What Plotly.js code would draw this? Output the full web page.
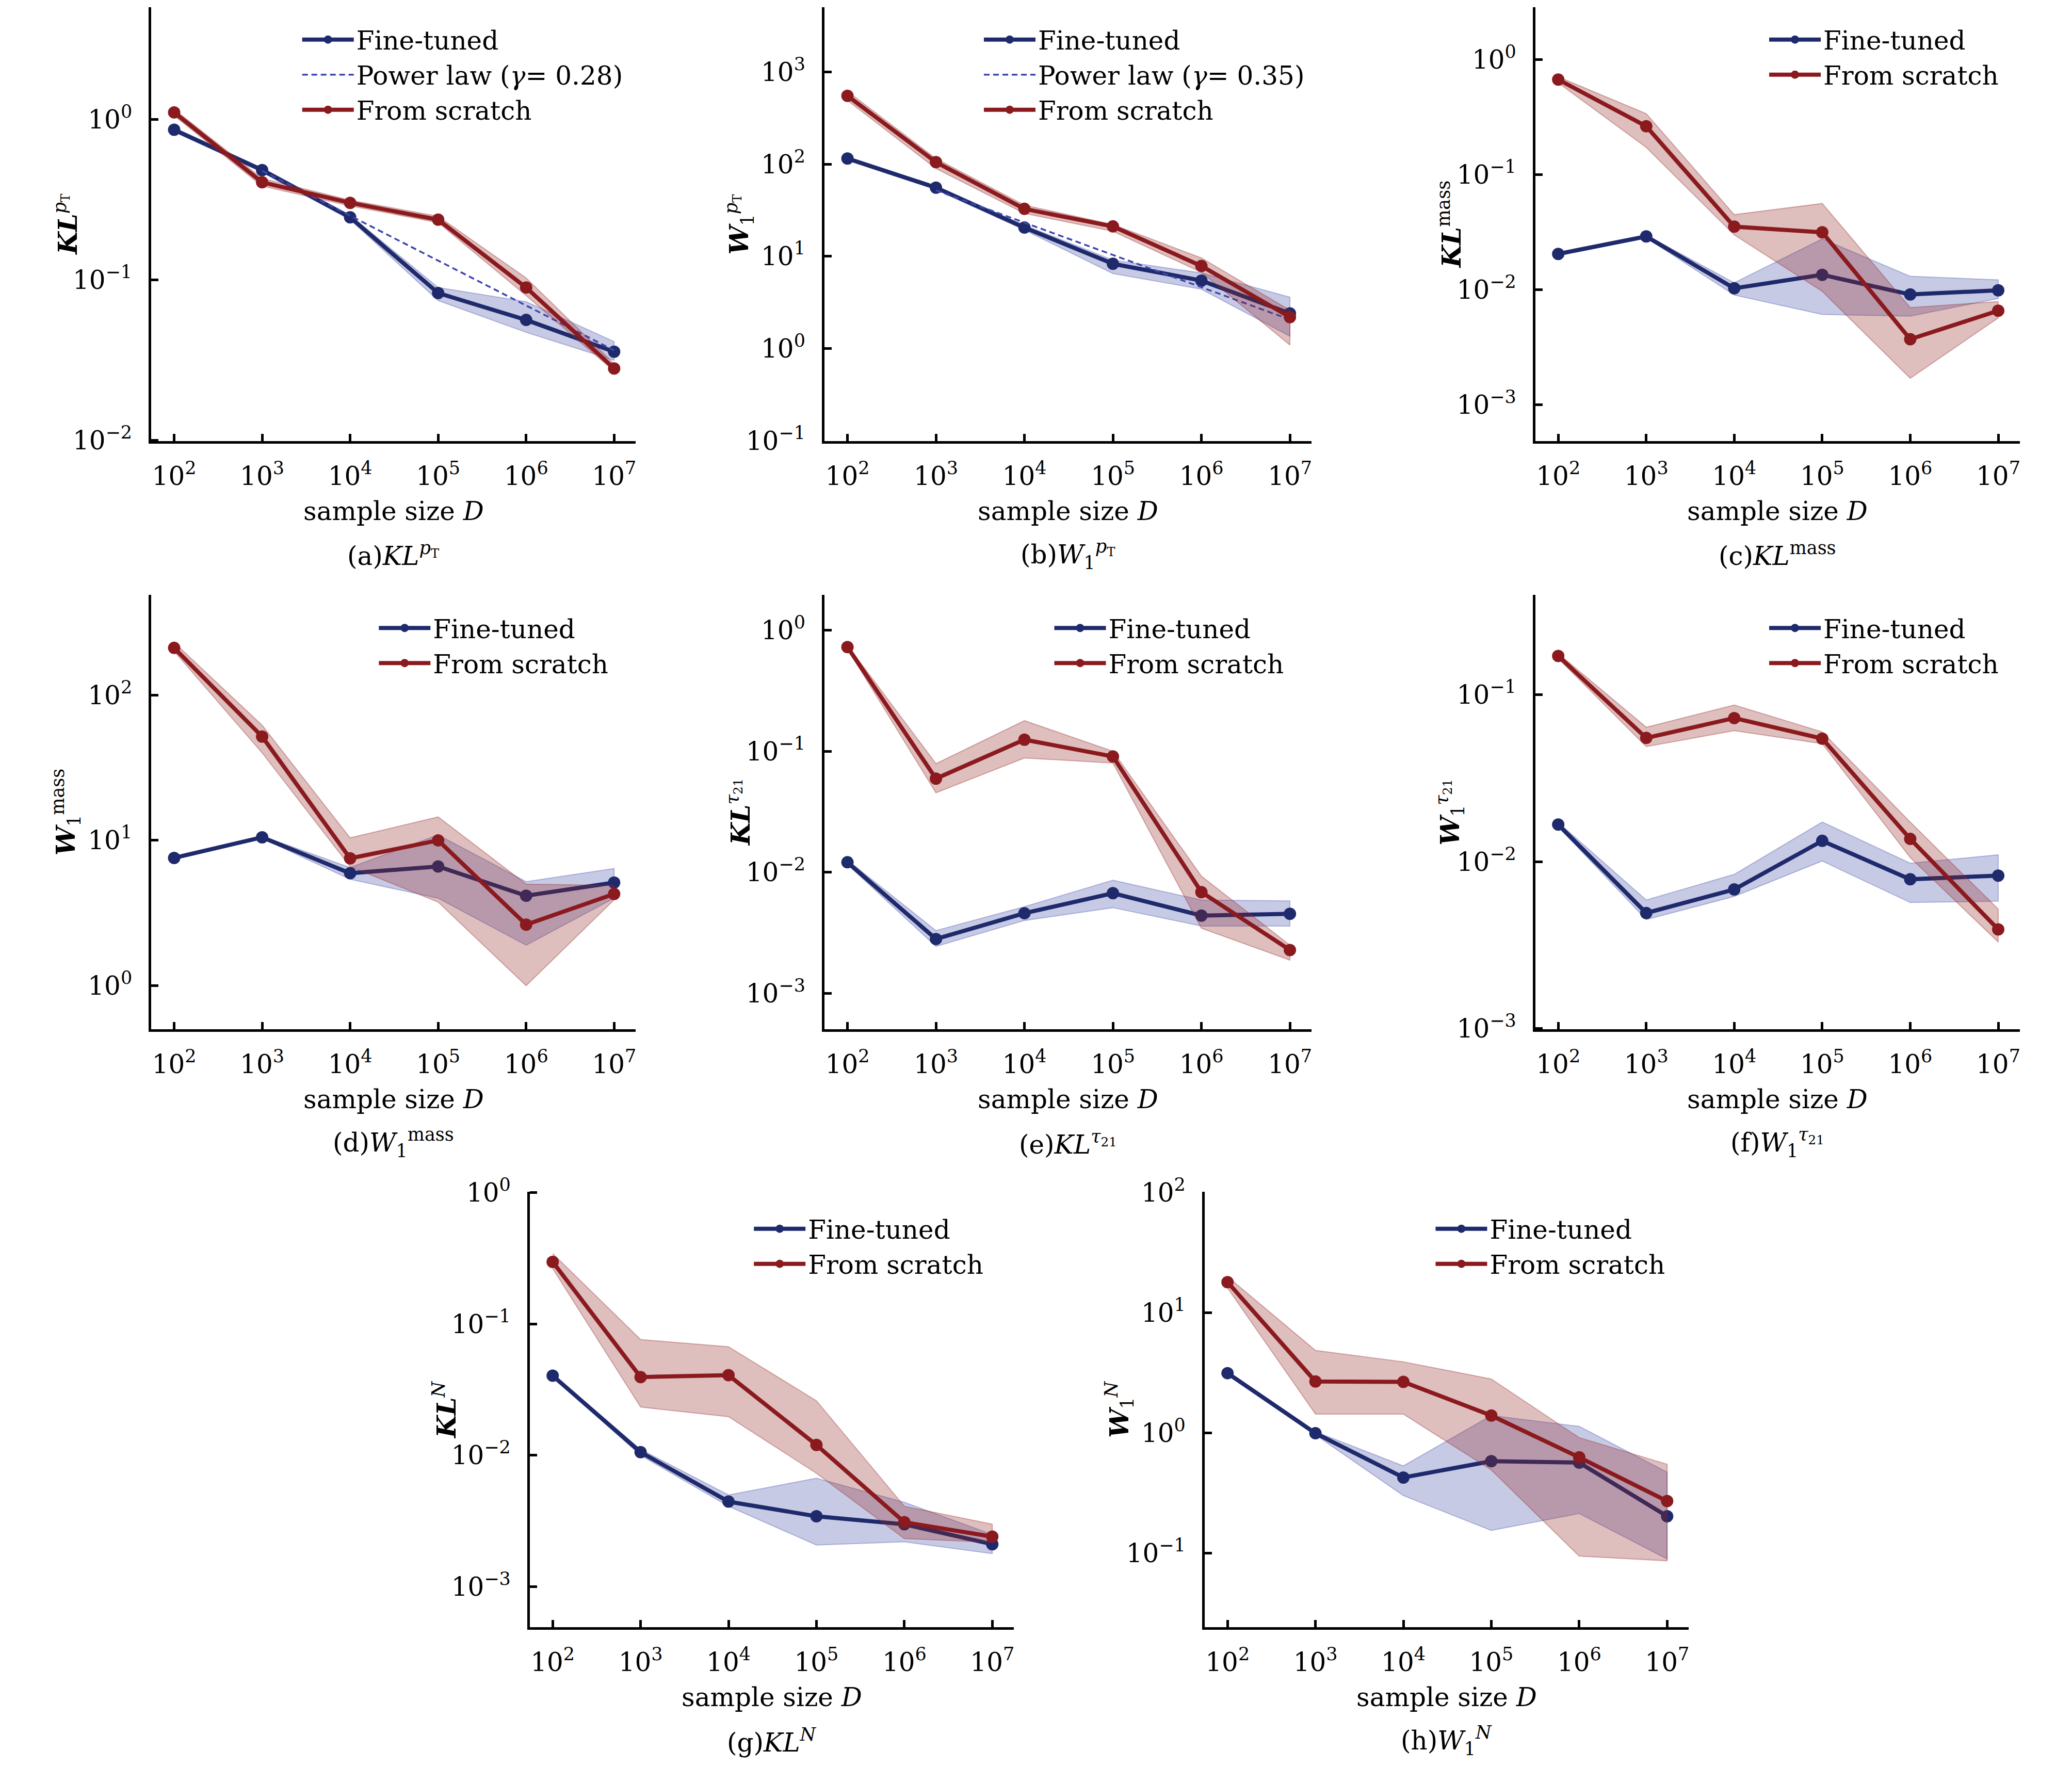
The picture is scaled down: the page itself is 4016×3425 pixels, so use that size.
<!DOCTYPE html>
<html>
<head>
<meta charset="utf-8">
<script src="https://cdn.plot.ly/plotly-3.0.1.min.js"></script>
<style>body{margin:0;background:#fff}</style>
</head>
<body>
<div id="chart" style="width:4016px;height:3425px"></div>
<script>
// sample sizes shared by all panels
var D = [1e2, 1e3, 1e4, 1e5, 1e6, 1e7];
var xTickExp = [2, 3, 4, 5, 6, 7];

// (a) KL pT
var ftA = [0.865, 0.485, 0.246, 0.083, 0.0564, 0.0357];
var ftA_lo = [0.84, 0.47, 0.238, 0.0745, 0.0472, 0.0316];
var ftA_hi = [0.89, 0.50, 0.254, 0.0898, 0.0733, 0.0413];
var scA = [1.11, 0.407, 0.303, 0.238, 0.0898, 0.0281];
var scA_lo = [1.06, 0.385, 0.29, 0.228, 0.080, 0.027];
var scA_hi = [1.16, 0.43, 0.315, 0.25, 0.103, 0.030];
var powA_x = [1e3, 1e4, 1e5, 1e6, 1e7];
var powA = [0.48, 0.252, 0.132, 0.069, 0.0364];

// (b) W1 pT
var ftB = [115, 55.6, 20.5, 8.3, 5.45, 2.4];
var ftB_lo = [110, 53, 19.3, 6.5, 4.4, 1.36];
var ftB_hi = [120, 58, 21.8, 9.1, 6.6, 3.6];
var scB = [551, 105, 32.7, 21.1, 7.85, 2.19];
var scB_lo = [490, 89.6, 29.2, 18.7, 6.7, 1.09];
var scB_hi = [616, 115, 35.9, 22.1, 9.6, 2.6];
var powB_x = [1e3, 1e4, 1e5, 1e6, 1e7];
var powB = [52, 23.2, 10.3, 4.6, 2.06];

// (c) KL mass
var ftC = [0.0205, 0.0291, 0.0103, 0.0135, 0.0091, 0.0099];
var ftC_lo = [0.0198, 0.0283, 0.0090, 0.0061, 0.0059, 0.0084];
var ftC_hi = [0.0212, 0.0299, 0.0115, 0.0277, 0.0131, 0.0122];
var scC = [0.673, 0.264, 0.0354, 0.0316, 0.00372, 0.00658];
var scC_lo = [0.63, 0.173, 0.030, 0.0097, 0.0017, 0.0057];
var scC_hi = [0.71, 0.34, 0.045, 0.0563, 0.0070, 0.0079];

// (d) W1 mass
var ftD = [7.57, 10.5, 5.94, 6.61, 4.16, 5.12];
var ftD_lo = [7.4, 10.3, 5.4, 4.0, 1.9, 4.0];
var ftD_hi = [7.75, 10.7, 6.5, 10.9, 5.2, 6.4];
var scD = [211, 51.8, 7.52, 10.0, 2.63, 4.28];
var scD_lo = [200, 40, 6.6, 3.76, 1.0, 3.9];
var scD_hi = [230, 62, 10.4, 14.5, 5.0, 4.9];

// (e) KL tau21
var ftE = [0.0121, 0.00281, 0.00459, 0.00672, 0.00439, 0.00454];
var ftE_lo = [0.0116, 0.00244, 0.0040, 0.0051, 0.0036, 0.0036];
var ftE_hi = [0.0126, 0.0033, 0.0052, 0.0086, 0.0059, 0.0058];
var scE = [0.726, 0.0594, 0.1247, 0.0905, 0.00686, 0.00228];
var scE_lo = [0.70, 0.0454, 0.088, 0.080, 0.00345, 0.00188];
var scE_hi = [0.75, 0.079, 0.179, 0.100, 0.0093, 0.0025];

// (f) W1 tau21
var ftF = [0.0167, 0.00493, 0.00682, 0.01334, 0.00785, 0.00826];
var ftF_lo = [0.0162, 0.0045, 0.0062, 0.0101, 0.0057, 0.0058];
var ftF_hi = [0.0172, 0.0059, 0.0084, 0.0173, 0.0098, 0.0110];
var scF = [0.171, 0.0552, 0.0726, 0.0547, 0.0137, 0.00393];
var scF_lo = [0.165, 0.049, 0.061, 0.051, 0.0106, 0.0033];
var scF_hi = [0.177, 0.064, 0.087, 0.060, 0.0173, 0.0052];

// (g) KL N
var ftG = [0.0404, 0.01057, 0.00445, 0.00344, 0.00299, 0.00211];
var ftG_lo = [0.0395, 0.0100, 0.0041, 0.00208, 0.0022, 0.00179];
var ftG_hi = [0.0413, 0.0111, 0.0050, 0.0067, 0.0044, 0.0025];
var scG = [0.296, 0.0394, 0.0407, 0.0120, 0.0031, 0.00241];
var scG_lo = [0.263, 0.0233, 0.0197, 0.0073, 0.00233, 0.00218];
var scG_hi = [0.343, 0.076, 0.067, 0.026, 0.0041, 0.0030];

// (h) W1 N
var ftH = [3.13, 0.99, 0.424, 0.58, 0.564, 0.202];
var ftH_lo = [3.05, 0.96, 0.30, 0.154, 0.213, 0.089];
var ftH_hi = [3.2, 1.02, 0.53, 1.39, 1.13, 0.47];
var scH = [17.9, 2.67, 2.65, 1.39, 0.624, 0.270];
var scH_lo = [16.0, 1.43, 1.43, 0.49, 0.094, 0.086];
var scH_hi = [19.9, 4.84, 3.89, 2.80, 0.91, 0.547];

// y tick exponents per panel
var yExpA = [-2, -1, 0], yExpB = [-1, 0, 1, 2, 3], yExpC = [-3, -2, -1, 0], yExpD = [0, 1, 2];
var yExpE = [-3, -2, -1, 0], yExpF = [-3, -2, -1], yExpG = [-3, -2, -1, 0], yExpH = [-1, 0, 1, 2];

var NAVY = '#1e2a6b', RED = '#8a1a1e';
var FONT = 'DejaVu Serif';
var LEG_SHIFT = 0.0174; // legend symbol sits left of the text

function pow10(e) {
    return '10<sup>' + (e < 0 ? '\u2212' + (-e) : e) + '</sup>';
}

var panels = [
    {id: '',  ft: [ftA, ftA_lo, ftA_hi], sc: [scA, scA_lo, scA_hi], pow: [powA_x, powA, '0.28'], yexp: yExpA,
     xd: [0.0730, 0.3068], yd: [0.7504, 0.9958], yr: [-2.004, 0.70], lg: [0.162, 0.989],
     ytitle: '<b><i>KL</i></b><sup><i>p</i><sub>T</sub></sup>', cap: '(a)<i>KL</i><sup><i>p</i><sub>T</sub></sup>'},
    {id: '2', ft: [ftB, ftB_lo, ftB_hi], sc: [scB, scB_lo, scB_hi], pow: [powB_x, powB, '0.35'], yexp: yExpB,
     xd: [0.3979, 0.6330], yd: [0.7504, 0.9958], yr: [-1.004, 3.70], lg: [0.491, 0.989],
     ytitle: '<b><i>W</i></b><sub>1</sub><sup><i>p</i><sub>T</sub></sup>', cap: '(b)<i>W</i><sub>1</sub><sup><i>p</i><sub>T</sub></sup>'},
    {id: '3', ft: [ftC, ftC_lo, ftC_hi], sc: [scC, scC_lo, scC_hi], yexp: yExpC,
     xd: [0.7410, 0.9748], yd: [0.7504, 0.9958], yr: [-3.315, 0.455], lg: [0.870, 0.989],
     ytitle: '<b><i>KL</i></b><sup>mass</sup>', cap: '(c)<i>KL</i><sup>mass</sup>'},
    {id: '4', ft: [ftD, ftD_lo, ftD_hi], sc: [scD, scD_lo, scD_hi], yexp: yExpD,
     xd: [0.0730, 0.3068], yd: [0.4175, 0.6634], yr: [-0.30, 2.69], lg: [0.199, 0.656],
     ytitle: '<b><i>W</i></b><sub>1</sub><sup>mass</sup>', cap: '(d)<i>W</i><sub>1</sub><sup>mass</sup>'},
    {id: '5', ft: [ftE, ftE_lo, ftE_hi], sc: [scE, scE_lo, scE_hi], yexp: yExpE,
     xd: [0.3979, 0.6330], yd: [0.4175, 0.6634], yr: [-3.297, 0.293], lg: [0.525, 0.656],
     ytitle: '<b><i>KL</i></b><sup><i>\u03c4</i><sub>21</sub></sup>', cap: '(e)<i>KL</i><sup><i>\u03c4</i><sub>21</sub></sup>'},
    {id: '6', ft: [ftF, ftF_lo, ftF_hi], sc: [scF, scF_lo, scF_hi], yexp: yExpF,
     xd: [0.7410, 0.9748], yd: [0.4175, 0.6634], yr: [-3.004, -0.40], lg: [0.870, 0.656],
     ytitle: '<b><i>W</i></b><sub>1</sub><sup><i>\u03c4</i><sub>21</sub></sup>', cap: '(f)<i>W</i><sub>1</sub><sup><i>\u03c4</i><sub>21</sub></sup>'},
    {id: '7', ft: [ftG, ftG_lo, ftG_hi], sc: [scG, scG_lo, scG_hi], yexp: yExpG,
     xd: [0.2557, 0.4893], yd: [0.0791, 0.3255], yr: [-3.307, 0.004], lg: [0.380, 0.316],
     ytitle: '<b><i>KL</i></b><sup><i>N</i></sup>', cap: '(g)<i>KL</i><sup><i>N</i></sup>'},
    {id: '8', ft: [ftH, ftH_lo, ftH_hi], sc: [scH, scH_lo, scH_hi], yexp: yExpH,
     xd: [0.5814, 0.8150], yd: [0.0791, 0.3255], yr: [-1.618, 2.004], lg: [0.709, 0.316],
     ytitle: '<b><i>W</i></b><sub>1</sub><sup><i>N</i></sup>', cap: '(h)<i>W</i><sub>1</sub><sup><i>N</i></sup>'}
];

var data = [];
var layout = {
    width: 4016, height: 3425,
    margin: {t: 0, l: 0, r: 0, b: 0},
    paper_bgcolor: 'white', plot_bgcolor: 'white',
    font: {family: FONT, size: 50, color: 'black'},
    showlegend: true,
    annotations: []
};

function band(x, lo, hi, xa, ya, fill, edge) {
    return {
        x: x.concat(x.slice().reverse()),
        y: hi.concat(lo.slice().reverse()),
        xaxis: xa, yaxis: ya, mode: 'lines', fill: 'toself',
        fillcolor: fill, line: {color: edge, width: 2},
        hoverinfo: 'skip', showlegend: false
    };
}

panels.forEach(function(p, i) {
    var xa = 'x' + p.id, ya = 'y' + p.id;
    var lg = i === 0 ? 'legend' : 'legend' + (i + 1);

    data.push(band(D, p.ft[1], p.ft[2], xa, ya, 'rgba(70,80,170,0.30)', 'rgba(70,80,170,0.35)'));
    data.push({x: D, y: p.ft[0], xaxis: xa, yaxis: ya, name: 'Fine-tuned', legend: lg,
        mode: 'lines+markers', line: {color: NAVY, width: 8}, marker: {color: NAVY, size: 24}});
    if (p.pow) {
        data.push({x: p.pow[0], y: p.pow[1], xaxis: xa, yaxis: ya, legend: lg,
            name: 'Power law (<i>\u03b3</i>= ' + p.pow[2] + ')',
            mode: 'lines', line: {color: '#3d47b0', width: 3.5, dash: '11px,7px'}});
    }
    data.push(band(D, p.sc[1], p.sc[2], xa, ya, 'rgba(150,40,40,0.30)', 'rgba(150,40,40,0.35)'));
    data.push({x: D, y: p.sc[0], xaxis: xa, yaxis: ya, name: 'From scratch', legend: lg,
        mode: 'lines+markers', line: {color: RED, width: 8}, marker: {color: RED, size: 24}});

    var axCommon = {
        type: 'log', showline: true, linecolor: 'black', linewidth: 5,
        ticks: 'inside', ticklen: 14, tickwidth: 5, tickcolor: 'black',
        showgrid: false, zeroline: false, tickfont: {family: FONT, size: 50, color: 'black'}
    };
    layout['xaxis' + p.id] = Object.assign({}, axCommon, {
        domain: p.xd, anchor: ya, range: [1.74, 7.245],
        tickvals: D, ticktext: xTickExp.map(pow10), ticklabelstandoff: 20
    });
    layout['yaxis' + p.id] = Object.assign({}, axCommon, {
        domain: p.yd, anchor: xa, range: p.yr,
        tickvals: p.yexp.map(function(e) { return Math.pow(10, e); }),
        ticktext: p.yexp.map(pow10), ticklabelstandoff: 22
    });
    layout[lg] = {x: p.lg[0] - LEG_SHIFT, y: p.lg[1], xanchor: 'left', yanchor: 'top',
        itemwidth: 100, bgcolor: 'rgba(0,0,0,0)', font: {family: FONT, size: 50}, tracegroupgap: 0};

    layout.annotations.push({text: p.ytitle, xref: xa + ' domain', yref: ya + ' domain',
        x: 0, y: 0.5, xshift: -165, textangle: -90, showarrow: false,
        xanchor: 'center', yanchor: 'middle', font: {family: FONT, size: 50}});
    layout.annotations.push({text: 'sample size <i>D</i>', xref: xa + ' domain', yref: ya + ' domain',
        x: 0.5, y: 0, yshift: -136, showarrow: false,
        xanchor: 'center', yanchor: 'middle', font: {family: FONT, size: 50}});
    layout.annotations.push({text: p.cap, xref: xa + ' domain', yref: ya + ' domain',
        x: 0.5, y: 0, yshift: -220, showarrow: false,
        xanchor: 'center', yanchor: 'middle', font: {family: FONT, size: 50}});
});

Plotly.newPlot('chart', data, layout, {displayModeBar: false, staticPlot: true});
</script>
</body>
</html>
